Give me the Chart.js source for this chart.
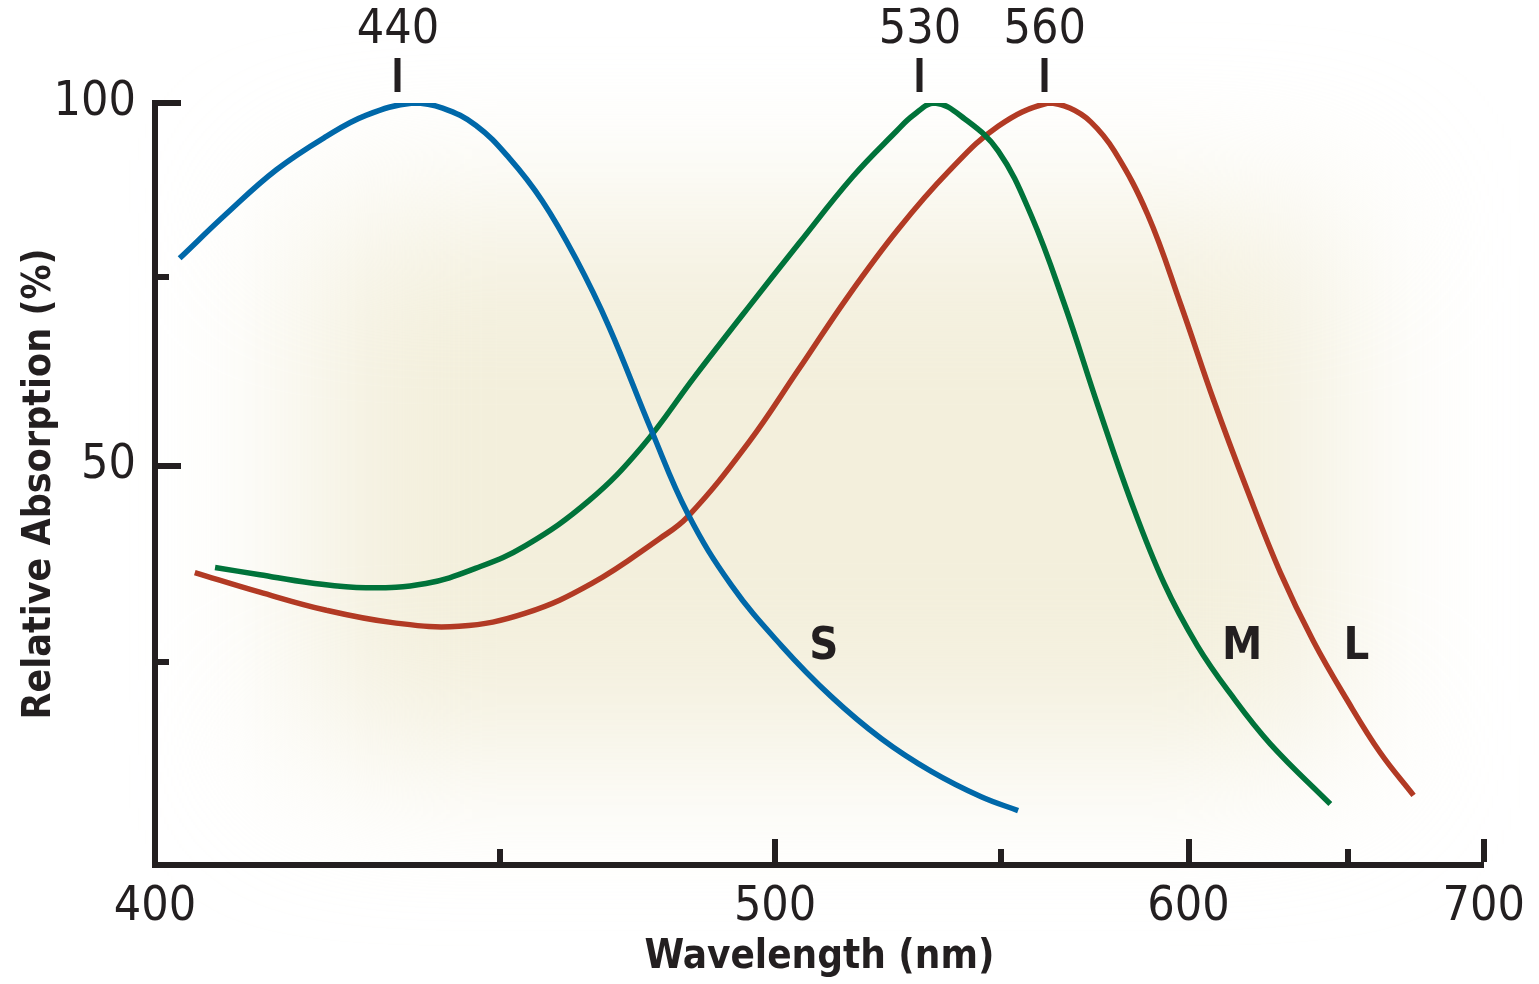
<!DOCTYPE html>
<html>
<head>
<title>Relative absorption of S, M and L cones</title>
<style>
  body { margin: 0; background: #fff; }
  #wrap { width: 1539px; height: 984px; }
</style>
</head>
<body>
<div id="wrap"><canvas id="coneChart"></canvas></div>

<script src="https://cdn.jsdelivr.net/npm/chart.js"></script>
<script>
// values (wavelength in nm, absorption in %)
const blueNm  = [403.2, 409.5, 416.3, 423.4, 429.2, 436.3, 440.9, 446.2, 451.6, 457.1, 462.8, 468.6, 476.3, 483.0, 491.4, 501.3, 511.6, 522.4, 533.6, 545.3, 554.3];
const blueAbs = [78.6, 84.8, 90.8, 95.4, 98.3, 100, 99.3, 96.9, 92.4, 86.5, 78.6, 69.2, 54.8, 43.4, 33.5, 25.2, 18.2, 12.4, 7.9, 4.4, 2.5];

const greenNm  = [407.9, 414.0, 421.0, 429.2, 438.3, 446.2, 454.3, 465.1, 474.5, 484.3, 494.4, 504.9, 516.1, 525.7, 529.5, 534.4, 541.4, 549.4, 557.5, 566.0, 574.8, 583.7, 593.0, 602.6, 612.4, 624.7, 644.2];
const greenAbs = [36.0, 35.0, 33.9, 33.2, 33.8, 35.9, 39.0, 45.2, 52.6, 62.3, 71.6, 80.7, 89.8, 96.1, 98.3, 100, 97.8, 93.4, 84.6, 72.3, 58.3, 45.2, 33.8, 25.2, 18.6, 11.7, 3.4];

const redNm  = [405.2, 414.0, 423.4, 433.2, 443.5, 454.3, 465.6, 477.6, 483.0, 494.7, 504.7, 515.2, 526.1, 537.5, 549.4, 561.8, 567.4, 572.9, 579.2, 588.4, 597.7, 607.5, 617.6, 627.9, 638.5, 649.9, 661.3, 673.3];
const redAbs = [35.3, 32.6, 30.1, 28.4, 27.9, 29.7, 33.8, 39.9, 43.0, 53.2, 63.2, 73.4, 82.6, 90.5, 96.8, 100, 99.3, 97.4, 93.4, 84.6, 72.3, 58.9, 46.6, 35.3, 25.9, 17.7, 10.5, 4.6];

// axes
const xTicks = [400, 450, 500, 550, 600, 650, 700];
const xLabelled = [400, 500, 600, 700];
const yTicks = [23, 50, 76, 100];
const yLabelled = [50, 100];

// peak markers along the top (where they sit in the figure) and their labels
const peakMarks = [434, 531, 561];
const peakLabels = ['440', '530', '560'];

// curve names and where they are written
const tagNames = ['S', 'M', 'L'];
const tagNm = [510, 616, 653];
const tagAbs = [25, 25, 25];

const ink = '#231f20';
const narrow = "'Liberation Sans Narrow', 'DejaVu Sans Condensed', sans-serif";

// the wavelength axis in the figure is spaced by 1/lambda
class ReciprocalScale extends Chart.LinearScale {
  static id = 'reciprocal';
  static defaults = {};
  getPixelForValue(value) {
    const a = 1 / this.min, b = 1 / this.max;
    return this.getPixelForDecimal((a - 1 / value) / (a - b));
  }
  getValueForPixel(pixel) {
    const a = 1 / this.min, b = 1 / this.max;
    return 1 / (a - this.getDecimalForPixel(pixel) * (a - b));
  }
}
Chart.register(ReciprocalScale);

function points(xs, ys) {
  return xs.map((x, i) => ({x: x, y: ys[i]}));
}

// soft cream wash behind the curves
const glow = {
  id: 'glow',
  beforeDraw(chart) {
    const {ctx, chartArea: a} = chart;
    ctx.save();
    ctx.filter = 'blur(80px)';
    ctx.fillStyle = '#f3efdc';
    ctx.fillRect(a.left + 150, a.top + 110, a.right - a.left - 290, a.bottom - a.top - 220);
    ctx.restore();
  }
};

const curveTags = {
  id: 'curveTags',
  afterDatasetsDraw(chart) {
    const {ctx, scales} = chart;
    ctx.save();
    ctx.font = 'bold 45px ' + narrow;
    ctx.fillStyle = ink;
    ctx.textAlign = 'center';
    ctx.textBaseline = 'middle';
    tagNames.forEach((t, i) => {
      ctx.fillText(t, scales.x.getPixelForValue(tagNm[i]), scales.y.getPixelForValue(tagAbs[i]));
    });
    ctx.restore();
  }
};

const line = (label, xs, ys, color) => ({
  label: label,
  data: points(xs, ys),
  borderColor: color,
  backgroundColor: color,
  borderWidth: 5.5,
  pointRadius: 0,
  tension: 0.4,
  fill: false
});

new Chart(document.getElementById('coneChart'), {
  type: 'line',
  data: {
    datasets: [
      line('S', blueNm, blueAbs, '#0068a9'),
      line('M', greenNm, greenAbs, '#00733a'),
      line('L', redNm, redAbs, '#b23a24')
    ]
  },
  plugins: [glow, curveTags],
  options: {
    responsive: true,
    maintainAspectRatio: false,
    animation: false,
    events: [],
    layout: { padding: { top: 0, right: 52, bottom: 0, left: 0 } },
    plugins: { legend: { display: false }, tooltip: { enabled: false } },
    scales: {
      x: {
        type: 'reciprocal',
        position: 'bottom',
        min: 400,
        max: 700,
        afterBuildTicks: s => { s.ticks = xTicks.map(v => ({value: v})); },
        afterFit: s => { s.height = 119; },
        border: {
          display: true, color: ink, width: 6,
          // only the stub just above the axis is drawn
          dash: c => {
            if (!c.tick) return [];
            const a = c.chart.chartArea;
            const len = xLabelled.includes(c.tick.value) ? 23 : 13;
            return [0, a.bottom - 3 - a.top - len, len, 2000];
          }
        },
        grid: {
          drawTicks: false,
          color: ink,
          lineWidth: c => (c.tick && c.tick.value === 400 ? 0 : 6)
        },
        ticks: {
          autoSkip: false, maxRotation: 0, padding: 14, color: ink,
          font: { family: narrow, size: 48, lineHeight: 1.2 },
          callback: v => (xLabelled.includes(v) ? String(v) : '')
        },
        title: {
          display: true, text: 'Wavelength (nm)', color: ink,
          font: { family: narrow, size: 40, weight: 'bold', lineHeight: 1 },
          padding: { top: 0, bottom: 6 }
        }
      },
      top: {
        type: 'reciprocal',
        position: 'top',
        min: 400,
        max: 700,
        afterBuildTicks: s => { s.ticks = peakMarks.map(v => ({value: v})); },
        afterFit: s => { s.height = 103; },
        border: { display: false },
        grid: {
          drawOnChartArea: false, drawTicks: true,
          tickLength: 45, tickWidth: 6, tickColor: ink, tickBorderDash: [34, 1000]
        },
        ticks: {
          autoSkip: false, maxRotation: 0, padding: 0, color: ink,
          font: { family: narrow, size: 48, lineHeight: 1.15 },
          callback: (v, i) => peakLabels[i]
        }
      },
      y: {
        min: -5,
        max: 100,
        afterBuildTicks: s => { s.ticks = yTicks.map(v => ({value: v})); },
        afterFit: s => { s.width = 155; },
        border: {
          display: true, color: ink, width: 6,
          dash: c => (c.tick ? [yLabelled.includes(c.tick.value) ? 23 : 11, 3000] : [])
        },
        grid: { drawTicks: false, color: ink, lineWidth: 6 },
        ticks: {
          padding: 19, color: ink,
          font: { family: narrow, size: 48, lineHeight: 1.2 },
          callback: v => (yLabelled.includes(v) ? String(v) : '')
        },
        title: {
          display: true, text: 'Relative Absorption (%)', color: ink,
          font: { family: narrow, size: 39, weight: 'bold', lineHeight: 1 },
          padding: { top: 20, bottom: 0 }
        }
      }
    }
  }
});
</script>
</body>
</html>
